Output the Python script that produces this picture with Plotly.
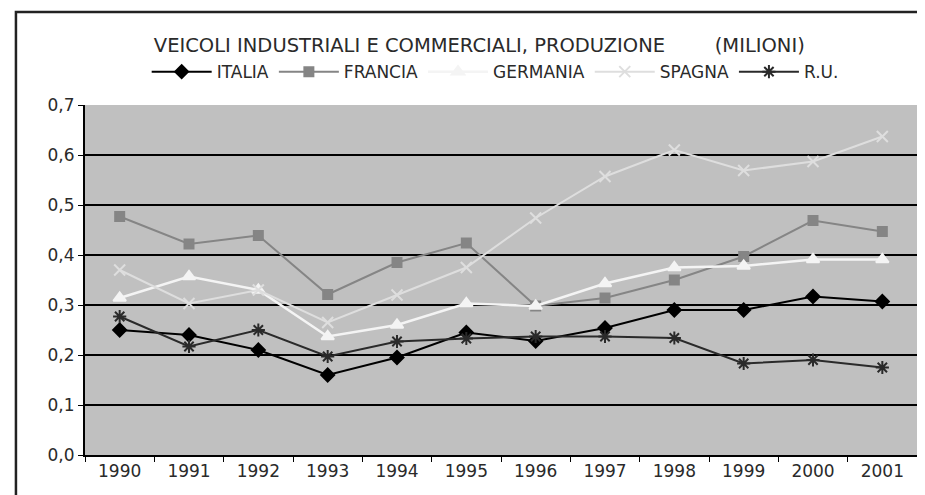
import plotly.graph_objects as go

years = ["1990", "1991", "1992", "1993", "1994", "1995", "1996", "1997", "1998", "1999", "2000", "2001"]
italia = [0.250, 0.240, 0.210, 0.160, 0.195, 0.245, 0.228, 0.254, 0.290, 0.290, 0.317, 0.307]
francia = [0.477, 0.422, 0.439, 0.321, 0.385, 0.424, 0.298, 0.314, 0.350, 0.397, 0.469, 0.447]
germania = [0.314, 0.357, 0.330, 0.237, 0.260, 0.303, 0.298, 0.343, 0.375, 0.378, 0.391, 0.391]
spagna = [0.370, 0.303, 0.330, 0.265, 0.320, 0.375, 0.474, 0.557, 0.610, 0.569, 0.587, 0.637]
ru = [0.277, 0.217, 0.250, 0.197, 0.227, 0.233, 0.237, 0.237, 0.234, 0.183, 0.190, 0.175]
yticks = [0.0, 0.1, 0.2, 0.3, 0.4, 0.5, 0.6, 0.7]

series = [
    ("ITALIA", italia, "#000000", "diamond", 10, 2),
    ("FRANCIA", francia, "#858585", "square", 9, 2),
    ("GERMANIA", germania, "#f4f4f4", "triangle-up", 11, 2.5),
    ("SPAGNA", spagna, "#dedede", "x-thin", 11, 2),
    ("R.U.", ru, "#2a2a2a", "asterisk", 11, 2),
]

fig = go.Figure()
for name, vals, col, sym, size, lw in series:
    fig.add_trace(go.Scatter(
        x=years, y=vals, name=name, mode="lines+markers",
        line=dict(color=col, width=lw),
        marker=dict(symbol=sym, size=size, color=col,
                    line=dict(color=col, width=2)),
    ))

fig.update_layout(
    width=917, height=487,
    margin=dict(l=77, r=8, t=97, b=40, autoexpand=False),
    paper_bgcolor="white",
    plot_bgcolor="#c0c0c0",
    separators=",.",
    font=dict(family="DejaVu Sans", size=17, color="#2a2a2a"),
    title=dict(text="VEICOLI INDUSTRIALI E COMMERCIALI, PRODUZIONE &nbsp;&nbsp;&nbsp;&nbsp;&nbsp;&nbsp; (MILIONI)",
               x=0.514, xanchor="center", y=0.924, yanchor="middle",
               font=dict(family="DejaVu Sans", size=19.5, color="#2a2a2a")),
    legend=dict(orientation="h", x=0.493, xanchor="center", y=1.094, yanchor="middle",
                bgcolor="rgba(0,0,0,0)", font=dict(family="DejaVu Sans", size=17, color="#2a2a2a"),
                itemwidth=60, tracegroupgap=0),
    showlegend=True,
)
fig.update_xaxes(
    type="category", showgrid=False, tickson="boundaries", ticks="outside", ticklen=5,
    tickcolor="#000", showline=True, linecolor="#000", linewidth=2,
    tickfont=dict(size=17), range=[-0.5, 11.5],
)
fig.update_yaxes(
    range=[0, 0.7], tickvals=yticks, tickformat=".1f", showgrid=True, gridcolor="#000",
    gridwidth=2, zeroline=False, showline=True, linecolor="#000", linewidth=2,
    ticks="outside", ticklen=5, tickcolor="#000", tickfont=dict(size=17),
)
fig.add_shape(type="rect", xref="paper", yref="paper", x0=-0.083, x1=1.03, y0=-0.3, y1=1.266,
              line=dict(color="#222", width=2.5), fillcolor="rgba(0,0,0,0)", layer="below")

fig.write_html("out.html")
